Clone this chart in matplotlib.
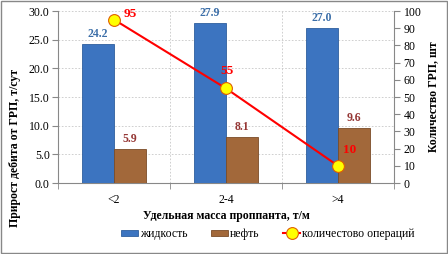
import numpy as np
import matplotlib
matplotlib.use("Agg")
import matplotlib.pyplot as plt
from matplotlib.patches import Rectangle

# DATA
categories = ["<2", "2-4", ">4"]
liquid = [24.2, 27.9, 27.0]
oil = [5.9, 8.1, 9.6]
operations = [95, 55, 10]

plt.rcParams['font.family'] = ['Liberation Serif', 'DejaVu Serif']
fs = 8.5

fig = plt.figure(figsize=(4.48, 2.54), dpi=100)
ax = fig.add_axes([58 / 448, 1 - 183 / 254, 336 / 448, 172 / 254])
ax2 = ax.twinx()

x = np.arange(len(categories))
w = 0.285
b1 = ax.bar(x - w / 2, liquid, w, color="#3c74c0", edgecolor="#2f5f9e", lw=0.6, zorder=3, label="жидкость")
b2 = ax.bar(x + w / 2, oil, w, color="#a2683a", edgecolor="#7a4c28", lw=0.6, zorder=3, label="нефть")

for xi, v in zip(x, liquid):
    ax.text(xi - w / 2, v + 0.7, f"{v:.1f}", ha="center", va="bottom", color="#3b6ea8",
            fontsize=fs, fontweight="bold")
for xi, v in zip(x, oil):
    ax.text(xi + w / 2, v + 0.7, f"{v:.1f}", ha="center", va="bottom", color="#953735",
            fontsize=fs, fontweight="bold")

ax.set_xlim(-0.5, 2.5)
ax.set_ylim(0, 30)
ax.set_yticks(np.arange(0, 30.1, 5))
ax.set_yticklabels([f"{t:.1f}" for t in np.arange(0, 30.1, 5)])
ax.set_xticks(x)
ax.set_xticklabels(categories)
ax.set_xticks([-0.5, 0.5, 1.5, 2.5], minor=True)
ax.grid(True, axis="y", ls=(0, (2, 2)), color="#c8c8c8", lw=0.6, zorder=0)
ax.grid(True, axis="x", which="minor", ls=(0, (2, 2)), color="#c8c8c8", lw=0.6, zorder=0)
ax.tick_params(axis="x", which="major", length=0, labelsize=fs, pad=8)
ax.tick_params(axis="x", which="minor", length=4, color="#888888")
ax.tick_params(axis="y", length=4, labelsize=fs, color="#888888", pad=2)
for s in ["top", "right"]:
    ax.spines[s].set_visible(False)
    ax2.spines[s].set_visible(False)
ax.spines["left"].set_color("#888888")
ax.spines["bottom"].set_color("#888888")
ax2.spines["left"].set_visible(False)
ax2.spines["bottom"].set_visible(False)
ax2.spines["right"].set_visible(True)
ax2.spines["right"].set_color("#888888")

ax2.plot(x, operations, color="#ff0000", lw=1.5, marker="o", ms=8.5, mfc="#ffff00",
         mec="#e06000", mew=0.8, zorder=5, label="количестово операций")
# label offsets in points (left edge of text relative to marker)
offsets = [(7.2, 4.3), (-4.3, 12.2), (3.6, 11.5)]
for xi, v, off in zip(x, operations, offsets):
    ax2.annotate(str(v), (xi, v), xytext=off, textcoords="offset points", ha="left", va="center",
                 color="#ff0000", fontsize=9.5, fontweight="bold", zorder=6)
ax2.set_ylim(0, 100)
ax2.set_yticks(np.arange(0, 101, 10))
ax2.tick_params(axis="y", length=4, labelsize=fs, color="#888888", pad=3)
ax.set_zorder(ax2.get_zorder() - 1)
ax.patch.set_visible(True)
ax2.patch.set_visible(False)

fig.text(15 / 448, 1 - 148 / 254, "Прирост дебита от ГРП, т/сут", rotation=90, ha="center", va="center",
         fontsize=fs, fontweight="bold")
fig.text(433 / 448, 1 - 97 / 254, "Количество ГРП, шт", rotation=90, ha="center", va="center",
         fontsize=fs, fontweight="bold")
ax.set_xlabel("Удельная масса проппанта, т/м", fontsize=fs, fontweight="bold", labelpad=3)

handles = [b1, b2, ax2.get_lines()[0]]
fig.legend(handles, [h.get_label() for h in handles], loc="center", bbox_to_anchor=(0.597, 1 - 234 / 254),
           ncol=3, frameon=False, fontsize=fs, handlelength=1.5, handleheight=0.4,
           columnspacing=2.0, handletextpad=0.1)

fig.patches.append(Rectangle((0.002, 0.004), 0.995, 0.992, transform=fig.transFigure,
                             fill=False, edgecolor="#888888", lw=1))
fig.savefig("out.png", dpi=100)
